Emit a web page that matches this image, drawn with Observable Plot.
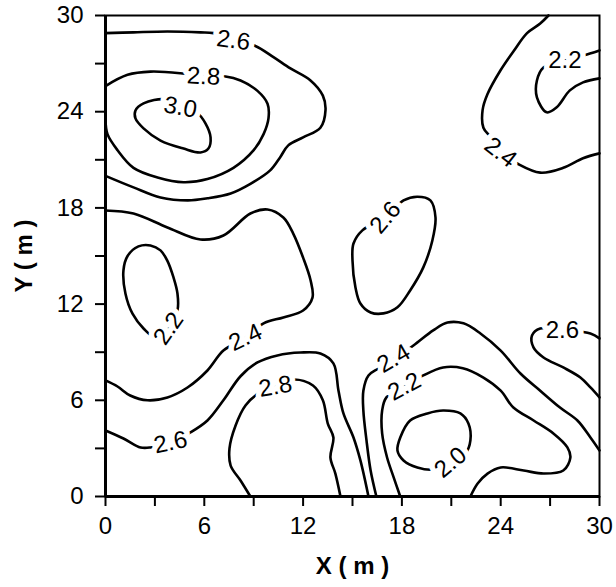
<!DOCTYPE html>
<html>
<head>
<meta charset="utf-8">
<script src="https://cdn.jsdelivr.net/npm/d3@7"></script>
<script src="https://cdn.jsdelivr.net/npm/@observablehq/plot@0.6"></script>
<style>
  html, body { margin: 0; padding: 0; background: #fff; }
  #chart svg { display: block; }
</style>
</head>
<body>
<div id="chart"></div>
<script>
// Axis ticks (metres); every second tick carries a label
const axisTicks = d3.range(0, 31, 3);
const axisLabelStep = 6;

// Contour levels and their traced paths, [x (m), y (m)]
const c26TopLeft = [[0,28.9],[1.7,28.95],[3.76,29.0],[5.77,28.95],[6.56,28.9],[7.77,28.45],[9.1,28.1],[10.2,27.4],[11.23,26.7],[12.45,25.95],[13.2,25.0],[13.36,24.1],[13.05,23.0],[12.0,22.4],[11.1,21.9],[10.6,21.15],[10.0,20.34],[8.8,19.5],[7.6,18.9],[6.2,18.6],[5.0,18.47],[3.34,18.65],[1.7,19.28],[0,20.0]];
const c28TopLeft = [[0,25.6],[1.34,26.3],[2.73,26.5],[4.55,26.4],[5.95,26.2],[7.29,26.2],[8.2,25.95],[9.23,25.3],[9.84,24.5],[9.9,23.6],[9.6,22.6],[9.0,21.6],[7.77,20.5],[6.19,19.8],[4.74,19.6],[3.16,19.9],[1.7,20.5],[0.73,21.6],[0.12,22.6],[0,23.5]];
const c30TopLeft = [[3.64,24.77],[4.55,24.27],[5.59,23.9],[6.07,23.27],[6.38,22.4],[6.25,21.7],[5.77,21.46],[4.74,21.7],[3.34,22.2],[2.31,22.96],[1.82,23.58],[1.82,24.08],[2.31,24.52]];
const c24MidLeft = [[0,17.84],[1.7,17.65],[3.76,16.78],[5.77,16.03],[7.16,16.28],[8.8,17.65],[9.84,17.9],[10.8,17.4],[11.4,16.4],[12.0,14.9],[12.45,13.5],[12.57,12.4],[12.0,11.6],[10.8,11.17],[9.6,10.8],[8.5,9.92],[7.16,9.1],[6.19,7.86],[4.98,6.8],[3.76,6.18],[2.55,6.0],[1.5,6.3],[0.73,6.86],[0,7.24]];
const c22Left = [[3.83,10.48],[3.04,9.92],[2.31,10.48],[1.64,11.4],[1.21,12.66],[1.09,14.1],[1.34,15.0],[2.0,15.6],[2.73,15.66],[3.34,15.35],[3.76,14.7],[4.13,13.66],[4.37,12.66],[4.37,11.6]];
const c26BottomLeft = [[0,4.12],[1.09,3.62],[2.13,3.06],[2.73,3.06],[3.95,3.37],[5.16,4.0],[6.19,4.74],[7.16,6.0],[8.2,7.5],[9.23,8.36],[10.44,8.8],[11.84,8.98],[13.05,8.92],[13.84,8.3],[14.15,6.6],[14.45,5.18],[15.06,3.68],[15.48,2.25],[15.97,0]];
const c28Bottom = [[8.8,0],[8.2,1.0],[7.6,1.93],[7.53,3.0],[7.9,4.43],[8.5,5.68],[9.29,6.43],[10.32,6.86],[11.4,7.3],[12.6,6.92],[13.2,6.0],[13.5,4.55],[13.84,3.68],[13.66,2.43],[13.96,1.43],[14.27,0]];
const c24BottomRight = [[16.45,0],[16.1,1.62],[15.85,3.5],[15.66,5.36],[15.66,6.6],[15.97,7.55],[16.6,8.0],[17.5,8.6],[18.7,9.42],[19.9,10.36],[20.77,10.85],[21.74,10.8],[22.77,10.17],[24.0,9.1],[25.2,7.67],[26.4,6.6],[27.6,5.55],[28.66,4.74],[29.45,3.68],[30,2.87]];
const c22BottomRight = [[17.9,0],[17.5,1.19],[17.1,2.43],[16.8,3.93],[16.8,5.36],[17.06,6.18],[18.15,6.86],[19.3,7.55],[20.5,8.05],[21.7,8.0],[22.95,7.42],[24.0,6.6],[24.77,5.55],[26.0,4.74],[27.2,3.93],[28.05,3.06],[28.23,2.43],[27.8,1.62],[26.6,1.43],[25.4,1.62],[24.0,1.81],[23.2,1.43],[22.6,0.81],[22.16,0]];
const c20BottomRight = [[20.95,2.12],[19.9,1.68],[18.94,1.81],[18.1,2.25],[17.73,2.87],[17.9,3.68],[18.5,4.74],[19.55,5.18],[20.5,5.36],[21.55,5.18],[22.04,4.55],[22.16,3.5],[21.86,2.68]];
const c26Right = [[30,9.86],[29.45,10.17],[27.75,10.36],[26.4,10.48],[25.9,10.04],[25.99,9.3],[26.6,8.67],[27.8,8.05],[28.84,7.42],[29.45,6.8],[30,6.18]];
const c26Mid = [[17.0,17.4],[15.6,16.6],[15.06,15.78],[15.0,14.72],[15.18,13.04],[15.48,12.04],[16.1,11.48],[16.88,11.42],[17.73,11.8],[18.5,12.85],[19.3,14.29],[19.85,15.97],[20.04,17.4],[19.73,18.47],[18.94,18.7],[18.1,18.47]];
const c22TopRight = [[30,27.82],[29.0,27.5],[27.9,27.2],[26.6,26.76],[26.2,25.95],[26.2,24.9],[26.8,23.96],[27.4,24.27],[28.2,25.33],[29.0,25.83],[30,26.08]];
const c24TopRight = [[26.9,30],[26.4,29.5],[25.6,28.9],[24.8,27.8],[24.0,26.6],[23.2,25.1],[22.9,24.1],[22.95,23.0],[23.4,22.4],[24.0,21.46],[25.0,20.77],[26.4,20.2],[27.8,20.5],[29.0,21.1],[30,21.4]];

// Level of each path, whether it closes on itself, and where its label sits
const contourPaths  = [c26TopLeft, c28TopLeft, c30TopLeft, c24MidLeft, c22Left, c26BottomLeft, c28Bottom, c24BottomRight, c22BottomRight, c20BottomRight, c26Right, c26Mid, c22TopRight, c24TopRight];
const contourLevels = [2.6, 2.8, 3.0, 2.4, 2.2, 2.6, 2.8, 2.4, 2.2, 2.0, 2.6, 2.6, 2.2, 2.4];
const contourClosed = [false, false, true, false, true, false, false, false, false, true, false, true, false, false];
const labelX     = [7.77, 5.95, 4.55, 8.5, 3.83, 3.95, 10.32, 17.5, 18.15, 20.95, 27.75, 17.0, 27.9, 24.0];
const labelY     = [28.45, 26.2, 24.27, 9.92, 10.48, 3.37, 6.86, 8.6, 6.86, 2.12, 10.36, 17.4, 27.2, 21.46];
const labelAngle = [8, 3, 10, -25, -55, -12, -10, -30, -28, -40, 0, -50, 0, 38];

const rows = [];
contourPaths.forEach((pts, i) => {
  pts.forEach(([x, y]) => rows.push({id: i, level: contourLevels[i], closed: contourClosed[i], x, y}));
});
const openRows = rows.filter(d => !d.closed);
const closedRows = rows.filter(d => d.closed);
const labels = contourLevels.map((level, i) => ({
  text: level.toFixed(1), x: labelX[i], y: labelY[i], angle: labelAngle[i]
}));

const chart = Plot.plot({
  width: 616,
  height: 587,
  marginLeft: 105,
  marginRight: 17,
  marginTop: 15,
  marginBottom: 91,
  x: {domain: [0, 30]},
  y: {domain: [0, 30]},
  style: {fontFamily: "Liberation Sans, Arial, sans-serif", background: "white", color: "black"},
  marks: [
    Plot.axisX({ticks: axisTicks, tickFormat: d => d % axisLabelStep === 0 ? d : "", tickSize: 10, tickPadding: 10, fontSize: 24, strokeWidth: 2, label: null}),
    Plot.axisY({ticks: axisTicks, tickFormat: d => d % axisLabelStep === 0 ? d : "", tickSize: 10, tickPadding: 12, fontSize: 24, strokeWidth: 2, label: null}),
    Plot.frame({stroke: "black", strokeWidth: 2}),
    Plot.ruleX([0], {stroke: "black", strokeWidth: 3}),
    Plot.ruleY([0], {stroke: "black", strokeWidth: 3}),
    Plot.line(openRows, {x: "x", y: "y", z: "id", stroke: "black", strokeWidth: 2.6, curve: "catmull-rom"}),
    Plot.line(closedRows, {x: "x", y: "y", z: "id", stroke: "black", strokeWidth: 2.6, curve: "catmull-rom-closed"}),
    Plot.text(labels, {x: "x", y: "y", text: "text", rotate: "angle", fontSize: 24, fill: "black", stroke: "white", strokeWidth: 11}),
    Plot.text(["X ( m )"], {frameAnchor: "bottom", textAnchor: "middle", lineAnchor: "middle", dy: 70, fontSize: 24, fontWeight: "bold", fill: "black"}),
    Plot.text(["Y ( m )"], {frameAnchor: "left", textAnchor: "middle", lineAnchor: "middle", dx: -81, rotate: -90, fontSize: 24, fontWeight: "bold", fill: "black"})
  ]
});
document.getElementById("chart").appendChild(chart);
</script>
</body>
</html>
